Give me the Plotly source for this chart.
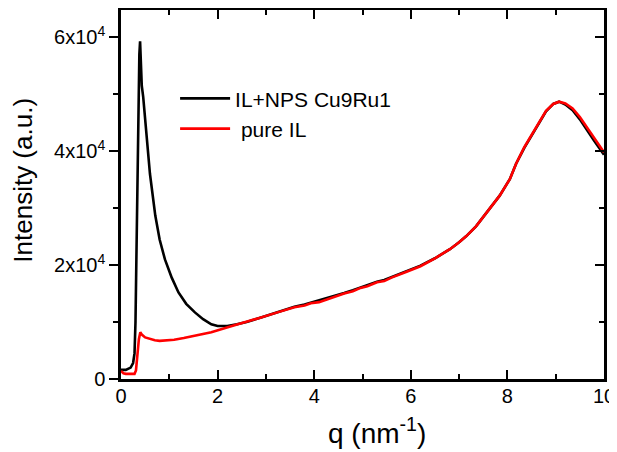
import plotly.graph_objects as go

# ---- data ----
q_pure = [0.0, 0.05, 0.1, 0.2, 0.28, 0.31, 0.34, 0.37, 0.40, 0.43, 0.5, 0.6, 0.7, 0.8, 0.95,
          1.1, 1.3, 1.53, 1.87, 2.21, 2.56, 2.9, 3.24, 3.59, 3.8, 3.93, 4.1, 4.27, 4.45, 4.62,
          4.8, 4.96, 5.1, 5.3, 5.45, 5.6, 5.9, 6.2, 6.5, 6.81, 7.0, 7.15, 7.35, 7.5, 7.7, 7.84,
          8.05, 8.18, 8.35, 8.53, 8.7, 8.8, 8.95, 9.07, 9.2, 9.35, 9.5, 9.62, 9.8, 10.0]
i_pure = [1400, 1000, 900, 850, 900, 1500, 4500, 7000, 8200, 7800, 7300, 7000, 6800, 6700, 6750,
          6900, 7200, 7600, 8200, 9100, 9900, 10800, 11700, 12600, 12900, 13300, 13500, 14000, 14500, 15000,
          15400, 16000, 16300, 17000, 17200, 17800, 18800, 19800, 21200, 22800, 24000, 25100, 26800, 28400, 30500, 32200,
          35100, 37800, 40700, 43300, 45800, 47100, 48300, 48700, 48400, 47500, 46000, 44500, 42300, 39800]

q_np = [0.0, 0.1, 0.2, 0.25, 0.28, 0.30, 0.32, 0.34, 0.36, 0.38, 0.395, 0.41, 0.43, 0.46, 0.5,
        0.55, 0.6, 0.66, 0.71, 0.8, 0.91, 1.05, 1.19, 1.35, 1.53, 1.7, 1.87, 2.0, 2.2, 2.4,
        2.6, 2.9, 3.24, 3.59, 3.8, 3.93, 4.1, 4.27, 4.45, 4.62, 4.8, 4.96, 5.1, 5.3, 5.45,
        5.6, 5.9, 6.2, 6.5, 6.81, 7.0, 7.15, 7.35, 7.5, 7.7, 7.84, 8.05, 8.18, 8.35, 8.53,
        8.7, 8.8, 8.95, 9.07, 9.2, 9.35, 9.5, 9.62, 9.8, 10.0]
i_np = [1600, 1600, 2000, 2800, 4500, 10000, 22000, 36000, 49000, 57000, 59300, 56000, 51500, 49500, 45500,
        40000, 36000, 32000, 28700, 24500, 21000, 17800, 15200, 13200, 11700, 10500, 9600, 9300, 9300, 9600,
        10000, 10800, 11800, 12700, 13100, 13400, 13800, 14200, 14600, 15100, 15600, 16100, 16500, 17100, 17400,
        17900, 18900, 19900, 21200, 22800, 24000, 25100, 26800, 28400, 30500, 32200, 35100, 37800, 40600, 43200,
        45700, 47000, 48300, 48700, 48200, 47200, 45600, 44000, 41800, 39400]

y_tickvals = [0, 20000, 40000, 60000]
y_ticktext = ["0", "2x10<sup>4</sup>", "4x10<sup>4</sup>", "6x10<sup>4</sup>"]
x_tickvals = [0, 2, 4, 6, 8, 10]
x_ticktext = ["0", "2", "4", "6", "8", "10"]
x_title = "q (nm<sup>-1</sup>)"
y_title = "Intensity (a.u.)"

FONT = "Arial, Liberation Sans, sans-serif"

fig = go.Figure()
fig.add_trace(go.Scatter(x=q_np, y=i_np, mode="lines", name="IL+NPS Cu9Ru1",
                         line=dict(color="black", width=2.6)))
fig.add_trace(go.Scatter(x=q_pure, y=i_pure, mode="lines", name=" pure IL",
                         line=dict(color="#ff0000", width=2.6)))
fig.add_trace(go.Scatter(x=[], y=[], yaxis="y2", showlegend=False, hoverinfo="skip"))

yr = [0, 64800]
fig.update_layout(
    width=609, height=444,
    margin=dict(l=113, r=13, t=2, b=73, autoexpand=False),
    paper_bgcolor="white", plot_bgcolor="white",
    font=dict(family=FONT, color="black"),
    showlegend=True,
    legend=dict(x=0.112, y=0.719, xanchor="left", yanchor="middle",
                bgcolor="rgba(0,0,0,0)", font=dict(size=21, family=FONT),
                itemwidth=50, tracegroupgap=0),
    xaxis=dict(range=[0, 10], tickvals=x_tickvals, ticktext=x_ticktext,
               ticks="inside", ticklen=9, tickwidth=2, tickcolor="black",
               minor=dict(dtick=1, ticks="inside", ticklen=5, tickwidth=2, tickcolor="black"),
               showline=True, linewidth=2.5, linecolor="black", mirror="ticks",
               showgrid=False, zeroline=False, automargin=False,
               tickfont=dict(size=20, family=FONT),
               ticklabelstandoff=-3),
    yaxis=dict(range=yr, tickvals=y_tickvals, ticktext=y_ticktext,
               ticks="outside", ticklen=9, tickwidth=2, tickcolor="black",
               minor=dict(dtick=10000, ticks="outside", ticklen=5, tickwidth=2, tickcolor="black"),
               showline=True, linewidth=2.5, linecolor="black", mirror=True,
               showgrid=False, zeroline=False, automargin=False,
               tickfont=dict(size=20, family=FONT)),
    yaxis2=dict(range=yr, overlaying="y", side="right", anchor="x",
                tickvals=y_tickvals, showticklabels=False,
                ticks="inside", ticklen=9, tickwidth=2, tickcolor="black",
                minor=dict(dtick=10000, ticks="inside", ticklen=5, tickwidth=2, tickcolor="black"),
                showline=False, showgrid=False, zeroline=False, automargin=False),
    annotations=[
        dict(text=y_title, xref="paper", yref="paper", x=-0.203, y=0.54,
             xanchor="center", yanchor="middle", textangle=-90, showarrow=False,
             font=dict(size=26, family=FONT)),
        dict(text=x_title, xref="paper", yref="paper", x=0.529, y=-0.140,
             xanchor="center", yanchor="middle", showarrow=False,
             font=dict(size=28, family=FONT)),
    ],
)

fig.write_html("out.html")
